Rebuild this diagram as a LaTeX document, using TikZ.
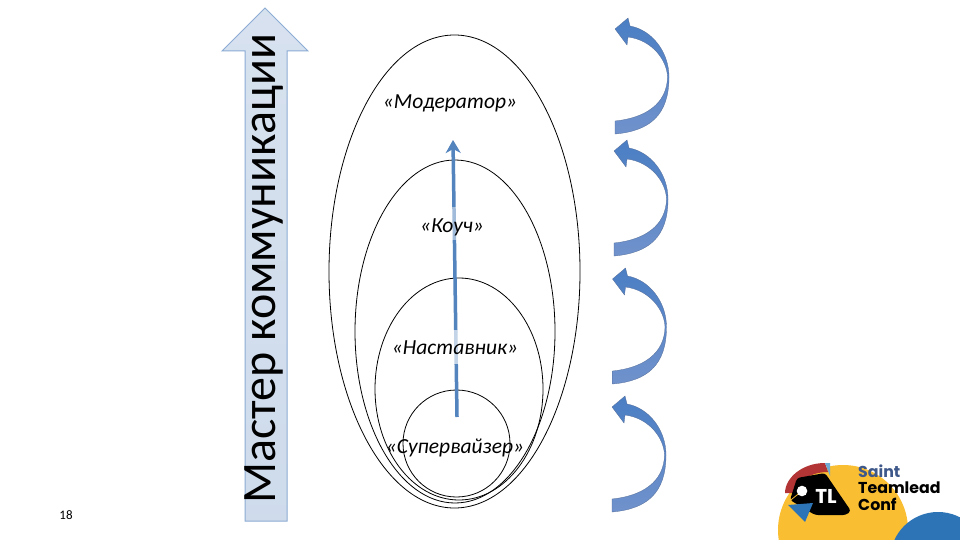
\documentclass[tikz,border=0pt]{standalone}
\usepackage{fontspec}
\setmainfont{Carlito}
\newfontfamily\logofont{Poppins}
\usetikzlibrary{shapes.geometric, arrows.meta, positioning, calc}
\definecolor{ArrowBlue}{RGB}{74,126,196}
\definecolor{ArrowLight}{RGB}{112,146,204}
\definecolor{GrowBlue}{RGB}{84,132,190}
\definecolor{ShaftFill}{RGB}{198,213,232}
\definecolor{ShaftEdge}{RGB}{140,172,212}
\definecolor{LogoYellow}{RGB}{250,190,50}
\definecolor{LogoBlue}{RGB}{44,116,182}
\definecolor{LogoRed}{RGB}{178,52,52}
\definecolor{LogoSky}{RGB}{110,170,210}
\definecolor{LogoNavy}{RGB}{62,88,138}
\tikzset{
  ring/.style={draw=black,ellipse,inner sep=0pt,line width=0.8pt},
  rolelabel/.style={font=\itshape\fontsize{21.5}{24}\selectfont,inner sep=0pt},
  logotext/.style={font=\logofont\bfseries\fontsize{15.8}{18}\selectfont,anchor=west,inner sep=0pt}
}
\begin{document}
\begin{tikzpicture}[x=1pt,y=-1pt]
  \useasboundingbox (0,0) rectangle (960,540);
  \fill[white] (0,0) rectangle (960,540);
  % big arrow on the left
  \draw[ShaftEdge,line width=1pt,bottom color=ShaftFill!85!white,top color=ShaftFill!70!white]
    (265,8) -- (308,51) -- (287,51) -- (287,521) -- (245,521) -- (245,51) -- (222,51) -- cycle;
  \node[rotate=90,font=\fontsize{48}{60}\selectfont,inner sep=0pt] (master) at (264,269)
    {Мастер коммуникации};
  % nested rings
  \node[ring,minimum width=251pt,minimum height=473pt] (moderator) at (454.5,271.5) {};
  \node[ring,minimum width=200pt,minimum height=343pt] (coach) at (455,331.5) {};
  \node[ring,minimum width=168pt,minimum height=222pt] (mentor) at (459,389) {};
  \node[ring,minimum width=107pt,minimum height=107pt] (supervisor) at (456.5,443.5) {};
  % arrow through the rings
  \coordinate (growstart) at (457,417);
  \coordinate (growend) at (453,140);
  \draw[GrowBlue,line width=3.5pt,-{Stealth[length=13pt,width=15pt,inset=4pt]}] (growstart) -- (growend);
  \fill[white,opacity=0.65] (440,330) rectangle (470,364);
  \fill[white,opacity=0.45] (440,207) rectangle (470,240);
  \node[rolelabel] (lblmoderator) at (450,103) {«Модератор»};
  \node[rolelabel] (lblcoach) at (452,227) {«Коуч»};
  \node[rolelabel] (lblmentor) at (455,348) {«Наставник»};
  \node[rolelabel] (lblsupervisor) at (455,448) {«Супервайзер»};
  % curved arrows on the right
  \foreach \x/\y in {0/0,-1/122,-2.5/250,-3/378}{
    \begin{scope}[shift={(\x,\y)}]
      \shade[top color=ArrowBlue,middle color=ArrowBlue,bottom color=ArrowLight,draw=ArrowLight!75!black,line width=0.3pt]
        (615,29) -- (628,18) -- (630,26) .. controls (652,30) and (669,52) .. (669,77)
        .. controls (669,115) and (650,131) .. (615,134) -- (615,121)
        .. controls (645,118) and (667,104) .. (667.5,77)
        .. controls (667,60) and (652,40) .. (628,37) -- (627,45) -- cycle;
    \end{scope}
  }
  % page number
  \node[font=\fontsize{13}{15}\selectfont,inner sep=0pt] (pagenum) at (66,515) {18};
  % logo
  \begin{scope}
    \clip (0,0) rectangle (960,540);
    \fill[LogoYellow] (843,530) circle (65);
    \fill[LogoBlue] (938,560) circle (48);
    \fill[LogoRed] (785,493) .. controls (785,478) and (802,463) .. (825,463) -- (828,472)
      .. controls (810,472) and (797,482) .. (794,493) -- cycle;
    \fill[LogoSky] (825,463) -- (830,463) -- (830,476) -- cycle;
    \fill[black,rounded corners=3pt] (797,478) -- (825,473) -- (851,511) -- (846,515) -- (815,515) -- (790,500) -- cycle;
    \fill[LogoBlue] (788,505) -- (813,503) -- (805,522) -- cycle;
    \draw[LogoYellow,line width=0.8pt] (802,491) -- (787,503);
    \fill[white] (802,491) circle (5.3);
  \end{scope}
  \node[font=\logofont\bfseries\fontsize{20}{22}\selectfont,text=white,inner sep=0pt] (logotl) at (826,496) {TL};
  \node[logotext,text=LogoNavy] (logosaint) at (858,471) {Saint};
  \node[logotext,below=4pt of logosaint.south west,anchor=north west] (logoteam) {Teamlead};
  \node[logotext,below=4pt of logoteam.south west,anchor=north west] (logoconf) {Conf};
\end{tikzpicture}
\end{document}
